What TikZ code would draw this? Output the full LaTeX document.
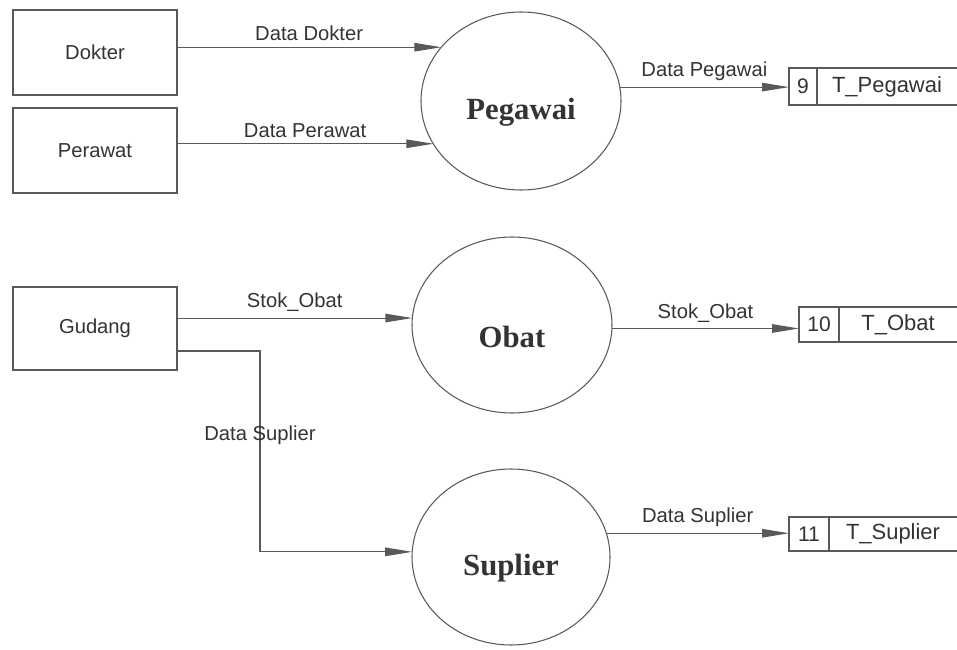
\documentclass[tikz,border=0pt]{standalone}
\usepackage{fontspec}
\setmainfont{Liberation Sans}
\newfontfamily\hurufserif{Liberation Serif}
\usetikzlibrary{arrows.meta,shapes.geometric}

\definecolor{garis}{gray}{0.35}
\definecolor{tinta}{gray}{0.2}

\tikzset{
  entitas/.style={draw=garis, line width=0.6pt, text=tinta, minimum width=32.8mm, minimum height=17mm, outer sep=0pt, font=\fontsize{11.5}{13}\selectfont},
  proses/.style={ellipse, draw=garis, line width=0.6pt, minimum width=40mm, minimum height=35.6mm, outer sep=0pt},
  judul/.style={text=tinta, yshift=-2.3mm, font=\hurufserif\bfseries\fontsize{17.5}{20}\selectfont},
  nomor/.style={draw=garis, line width=0.6pt, anchor=west, text=tinta, outer sep=0pt, inner sep=0pt, font=\fontsize{12}{14}\selectfont},
  simpan/.style={anchor=west, text=tinta, outer sep=0pt, inner sep=0pt, font=\fontsize{12.5}{14}\selectfont},
  alir/.style={draw=garis, line width=0.6pt, -{Triangle[length=5.4mm,width=1.7mm]}},
  ket/.style={text=tinta, font=\fontsize{11.5}{13}\selectfont}
}

\begin{document}
\begin{tikzpicture}[x=0.2mm, y=-0.2mm]

\useasboundingbox (0,0) rectangle (957,649);

% entitas luar
\node[entitas] (dokter) at (95,52.5) {Dokter};
\node[entitas] (perawat) at (95,150.5) {Perawat};
\node[entitas, minimum height=16.6mm] (gudang) at (95,328.5) {Gudang};

% proses
\node[proses, label={[judul]center:Pegawai}] (pegawai) at (521,101) {};
\node[proses, minimum height=35.2mm, label={[judul]center:Obat}] (obat) at (512,325) {};
\node[proses, minimum width=39.6mm, minimum height=35.2mm, label={[judul]center:Suplier}] (suplier) at (511,557) {};

% data store
\foreach \no/\teks/\x/\y/\lebar/\tinggi in {9/T\_Pegawai/789/86.5/28/37, 10/T\_Obat/799/324.5/40/35, 11/T\_Suplier/789/534/40/34}{%
  \node[nomor, minimum width=\lebar*0.2mm, minimum height=\tinggi*0.2mm] (n\no) at (\x,\y) {\no};
  \node[simpan, minimum width=(957-\x-\lebar)*0.2mm, minimum height=\tinggi*0.2mm] (t\no) at (n\no.east) {\teks};
  \draw[garis, line width=0.6pt] (n\no.north east) -- (t\no.north east);
  \draw[garis, line width=0.6pt] (n\no.south east) -- (t\no.south east);
}

% aliran data
\draw[alir] (dokter.east |- pegawai.146.6) -- node[ket, above] {Data Dokter} (pegawai.146.6);
\draw[alir] (perawat.east |- pegawai.206.9) -- node[ket, above] {Data Perawat} (pegawai.206.9);
\draw[alir] (pegawai.8.1) -- node[ket, above] {Data Pegawai} (pegawai.8.1 -| n9.west);

\draw[alir] (gudang.east |- obat.176.6) -- node[ket, above] {Stok\_Obat} (obat.176.6);
\draw[alir] (obat.358.9) -- node[ket, above] {Stok\_Obat} (obat.358.9 -| n10.west);

\draw[alir] ([yshift=-4.5mm]gudang.east) -- ++(83,0) |- node[ket, pos=0.21] {Data Suplier} (suplier.177.7);
\draw[alir] (suplier.14.1) -- node[ket, above] {Data Suplier} (suplier.14.1 -| n11.west);

\end{tikzpicture}
\end{document}
